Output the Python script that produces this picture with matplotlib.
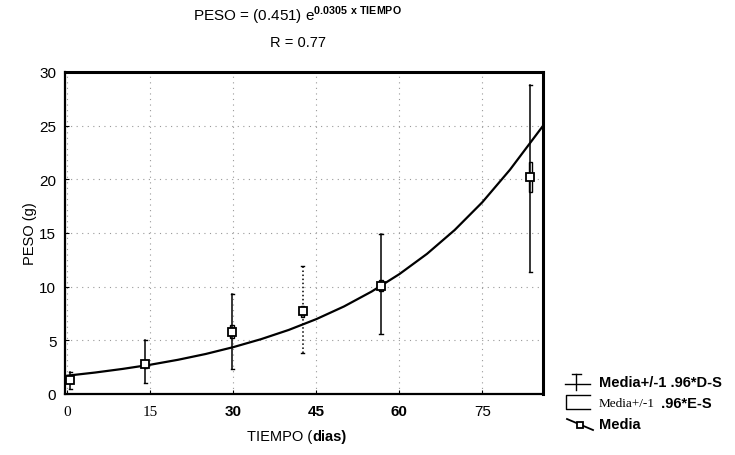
import matplotlib
matplotlib.use("Agg")
import matplotlib.pyplot as plt
from matplotlib.patches import Rectangle

plt.rcParams["font.family"] = ["Liberation Sans", "DejaVu Sans"]
plt.rcParams["mathtext.fontset"] = "custom"
plt.rcParams["mathtext.rm"] = "Liberation Sans"
plt.rcParams["mathtext.bf"] = "Liberation Sans:bold"

# mean weight per sampling day
days = [0.5, 14.1, 29.8, 42.5, 56.7, 83.7]
mean = [1.3, 2.8, 5.8, 7.7, 10.1, 20.2]
sd_lo = [0.5, 1.0, 2.3, 3.8, 5.6, 11.4]     # media - 1.96*DS
sd_hi = [2.0, 5.0, 9.3, 11.9, 14.9, 28.8]   # media + 1.96*DS
se_lo = [1.0, 2.4, 5.2, 7.2, 9.6, 18.8]     # media - 1.96*ES
se_hi = [1.6, 3.2, 6.4, 8.2, 10.6, 21.6]    # media + 1.96*ES

# fitted exponential curve
fit_x = [0, 5, 10, 15, 20, 25, 30, 35, 40, 45, 50, 55, 60, 65, 70, 75, 80, 86]
fit_y = [1.70, 1.99, 2.33, 2.72, 3.18, 3.72, 4.36, 5.10, 5.96, 6.97, 8.15,
         9.54, 11.16, 13.05, 15.27, 17.86, 20.89, 25.0]

xticks = [0, 15, 30, 45, 60, 75]
yticks = [0, 5, 10, 15, 20, 25, 30]

fig = plt.figure(figsize=(7.35, 4.56), dpi=100)
ax = fig.add_axes([0.088, 0.134, 0.651, 0.706])

ax.plot(fit_x, fit_y, color="black", lw=1.6, zorder=3)
for i, d in enumerate(days):
    ls = ":" if i == 3 else "-"
    ax.plot([d, d], [sd_lo[i], sd_hi[i]], color="black", lw=1.1, ls=ls, zorder=2)
    ax.plot([d - 0.3, d + 0.3], [sd_lo[i], sd_lo[i]], color="black", lw=1.0)
    ax.plot([d - 0.3, d + 0.3], [sd_hi[i], sd_hi[i]], color="black", lw=1.0)
    ax.add_patch(Rectangle((d - 0.35, se_lo[i]), 0.7, se_hi[i] - se_lo[i],
                           fill=False, edgecolor="black", lw=1.0, zorder=4))
ax.plot(days, mean, ls="none", marker="s", ms=5.5, mfc="white", mec="black",
        mew=1.3, zorder=5)

ax.set_xlim(-0.5, 86)
ax.set_ylim(0, 30)
ax.set_xticks(xticks)
ax.set_yticks(yticks)
ax.set_xticklabels([])
ax.tick_params(axis="y", direction="in", length=3, labelsize=11, pad=6)
ax.tick_params(axis="x", direction="in", length=3)
ax.grid(True, color="#999999", ls=(0, (1, 4)), lw=0.8)
ax.set_axisbelow(True)
for side in ["left", "bottom"]:
    ax.spines[side].set_linewidth(1.6)
for side in ["top", "right"]:
    ax.spines[side].set_linewidth(2.2)

# tick labels: the scan mixes typefaces
styles = [("Liberation Serif", "normal"), ("Liberation Serif", "normal"),
          ("Liberation Sans", "bold"), ("Liberation Sans", "bold"),
          ("Liberation Sans", "bold"), ("Liberation Sans", "normal")]
for t, (fam, wt) in zip(xticks, styles):
    ax.text(t, -1.6, str(t), ha="center", va="center", fontsize=11,
            family=fam, weight=wt)

ax.set_ylabel("PESO (g)", fontsize=10.5, labelpad=2)
fig.text(0.425, 0.042, "TIEMPO (", fontsize=10.5, ha="right", va="center")
fig.text(0.425, 0.042, "dias)", fontsize=10.5, ha="left", va="center", weight="bold")

fig.text(0.405, 0.965, r"PESO = (0.451) e$^{\mathbf{0.0305\ x\ TIEMPO}}$",
         ha="center", va="center", fontsize=11)
fig.text(0.405, 0.906, "R = 0.77", ha="center", va="center", fontsize=10.5)

# legend drawn by hand to keep the mixed fonts
lg = fig.add_axes([0, 0, 1, 1], facecolor="none")
lg.set_axis_off()
lg.set_xlim(0, 735)
lg.set_ylim(456, 0)
# D-S entry
lg.plot([576, 576], [375, 391], color="black", lw=1)
lg.plot([572, 581], [375, 375], color="black", lw=1)
lg.plot([565, 590], [385, 385], color="black", lw=1)
lg.text(599, 383, "Media+/-1 .96*D-S", fontsize=10.5, va="center", weight="bold")
# E-S entry
lg.plot([590, 566, 566, 590], [396, 396, 410, 410], color="black", lw=1)
lg.text(599, 404, "Media+/-1", fontsize=9.5, va="center", family="Liberation Serif")
lg.text(657, 404, " .96*E-S", fontsize=10.5, va="center", weight="bold")
# Media entry
lg.plot([567, 593], [420, 431], color="black", lw=1.3)
lg.plot([580], [426], marker="s", ms=5, mfc="white", mec="black", mew=1.3)
lg.text(599, 425, "Media", fontsize=10.5, va="center", weight="bold")

fig.savefig("out.png", dpi=100)
